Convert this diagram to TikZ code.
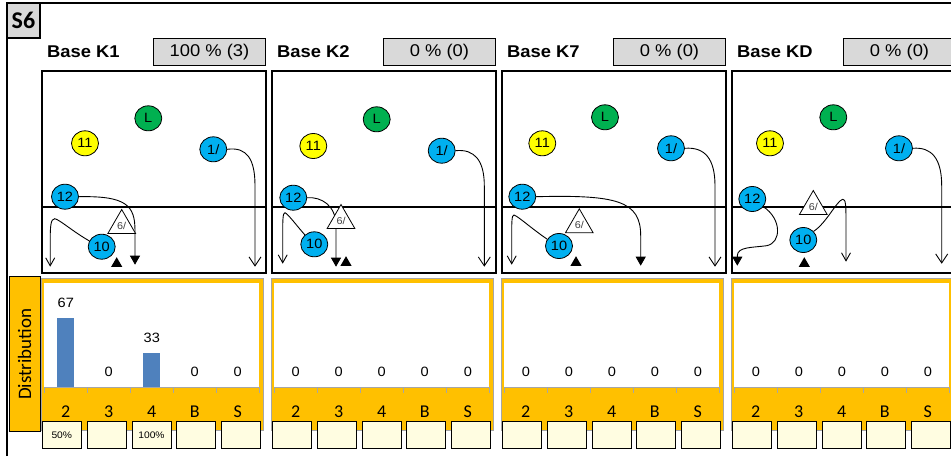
\documentclass[tikz,border=0pt]{standalone}
\usepackage{fontspec}
\setmainfont{Liberation Sans}
\newfontfamily\arw[FakeStretch=1.08]{Liberation Sans}
\newfontfamily\calf{Carlito}
\usetikzlibrary{shapes.geometric,arrows.meta}
\definecolor{gbox}{HTML}{D9D9D9}
\definecolor{orng}{HTML}{FFC000}
\definecolor{barc}{HTML}{4F81BD}
\definecolor{crm}{HTML}{FFFDE1}
\definecolor{axg}{HTML}{A6A6A6}
\definecolor{pblue}{HTML}{00B0F0}
\definecolor{pgreen}{HTML}{00B050}
\definecolor{pyel}{HTML}{FFFF00}
\tikzset{
 pl/.style={ellipse,draw=black,line width=0.8pt,minimum width=27pt,minimum height=25pt,inner sep=0pt,font=\arw\fontsize{13.5}{13.5}\selectfont},
 plb/.style={pl,fill=pblue}, plg/.style={pl,fill=pgreen}, ply/.style={pl,fill=pyel},
 defd/.style={regular polygon,regular polygon sides=3,draw=black,line width=0.8pt,fill=white,minimum size=32pt,inner sep=0pt,font=\arw\fontsize{10}{10}\selectfont,text=black!75},
 ballmk/.style={regular polygon,regular polygon sides=3,fill=black,minimum size=13pt,inner sep=0pt},
 route/.style={line width=0.9pt},
 runarr/.style={route,-{Straight Barb[length=9pt,width=12pt]}},
 cutarr/.style={route,-{Straight Barb[length=8pt,width=9pt]}},
 passarr/.style={route,-{Triangle[length=9pt,width=10pt]}},
 hdr/.style={anchor=west,inner sep=0pt,font=\arw\bfseries\fontsize{17}{17}\selectfont},
 pct/.style={draw=black,line width=1.3pt,fill=gbox,minimum width=112pt,minimum height=27pt,inner sep=0pt,font=\arw\fontsize{17}{17}\selectfont},
 fieldbox/.style={draw=black,line width=1.6pt,minimum width=224pt,minimum height=202pt,inner sep=0pt},
 chartbox/.style={draw=axg,line width=0.8pt,fill=orng,minimum width=222.5pt,minimum height=151.5pt,inner sep=0pt},
 plotarea/.style={fill=white,minimum width=215pt,minimum height=104pt,inner sep=0pt},
 val/.style={font=\arw\fontsize{13.5}{13.5}\selectfont,inner sep=0pt},
 cat/.style={font=\calf\fontsize{18}{18}\selectfont,inner sep=0pt},
 pbox/.style={draw=black,line width=0.8pt,fill=crm,minimum width=39pt,minimum height=27pt,inner sep=0pt,font=\arw\fontsize{9.5}{9.5}\selectfont}
}
\newcommand\panelbase[6]{%
 \begin{scope}[xshift=#1*230pt]
 \node[hdr] (hd#2) at (47,51.5) {#3};
 \node[pct] (pc#2) at (209.5,52) {#4};
 \node[fieldbox] (fd#2) at (153.7,171.9) {};
 \coordinate (ml#2) at (0,206.7);
 \draw[line width=1.6pt] (fd#2.west |- ml#2) -- (fd#2.east |- ml#2);
 \node[chartbox] (ch#2) at (152.25,354.25) {};
 \node[plotarea] (pa#2) at (151.8,335.3) {};
 \draw[axg,line width=1pt] (44.3,387.3) -- (259.3,387.3);
 \foreach \k in {0,...,5} \draw[axg,line width=1pt] (44.3+43*\k,387.3) -- ++(0,5.4);
 \foreach \c [count=\k from 0] in {2,3,4,B,S} \node[cat] (ct#2\k) at (65.8+43*\k,411.7) {\c};
 \foreach \v [count=\k from 0] in {#6} {
   \ifnum\v>0 \fill[barc] (65.8+43*\k-8.5,387.3) rectangle ++(17,-1.03*\v);\fi
   \node[val] (vl#2\k) at (65.8+43*\k,387.3-1.03*\v-15.6) {\v};
 }
 \foreach \t [count=\k from 0] in {#5} \node[pbox] (bx#2\k) at (61.8+44.85*\k,435) {\t};
 \end{scope}}
\begin{document}
\begin{tikzpicture}[x=1pt,y=-1pt]
\useasboundingbox (0,0) rectangle (951,456);
\fill[white] (0,0) rectangle (951,456);
\draw[line width=1.5pt] (7,456) -- (7,3) -- (951,3);
\node[draw=black,line width=1.3pt,fill=gbox,minimum width=33pt,minimum height=35pt,inner sep=0pt,font=\calf\bfseries\fontsize{24}{24}\selectfont] (s6) at (23.5,20.5) {S6};
\node[draw=black,line width=0.8pt,fill=orng,rotate=90,minimum width=155pt,minimum height=31pt,inner sep=0pt,font=\calf\fontsize{19}{19}\selectfont] (dist) at (24.5,354.2) {Distribution};
\panelbase{0}{a}{Base K1}{100 \% (3)}{50\%,{},100\%,{},{}}{67,0,33,0,0}
\panelbase{1}{b}{Base K2}{0 \% (0)}{{},{},{},{},{}}{0,0,0,0,0}
\panelbase{2}{c}{Base K7}{0 \% (0)}{{},{},{},{},{}}{0,0,0,0,0}
\panelbase{3}{d}{Base KD}{0 \% (0)}{{},{},{},{},{}}{0,0,0,0,0}
% panel 1
\begin{scope}[shift={(41.7,70.7)}]
\node[plg] (La) at (106.6,47.6) {L};
\node[ply] (Ea) at (43.3,72.6) {11};
\node[plb] (Oa) at (171.6,78.6) {1/};
\node[plb] (Ta) at (23.3,126) {12};
\node[plb] (Na) at (60,176) {10};
\draw[runarr] (Oa.east) .. controls (205,76) and (213.3,88) .. (213.3,115) -- (213.3,196);
\draw[passarr] (Ta.east) .. controls (85,125) and (93.3,135) .. (93.3,160) -- (93.3,194);
\draw[cutarr] (Na.155) .. controls (30,160) and (18,149) .. (13,148) .. controls (9,148) and (8.5,156) .. (8.5,170) -- (8.5,196);
\node[defd] (Da) at (80,154.8) {\raisebox{-4pt}{6/}};
\node[ballmk] (Ba) at (75,193) {};
\end{scope}
% panel 2
\begin{scope}[shift={(271.7,70.7)}]
\node[plg] (Lb) at (105,48.6) {L};
\node[ply] (Eb) at (41.6,75.3) {11};
\node[plb] (Ob) at (170,80) {1/};
\node[plb] (Tb) at (21.6,127) {12};
\node[plb] (Nb) at (42.6,173.6) {10};
\draw[runarr] (Ob.east) .. controls (203,78) and (212.6,90) .. (212.6,115) -- (212.6,196);
\draw[passarr] (Tb.east) .. controls (50,126) and (64.3,135) .. (64.3,155) -- (64.3,196);
\draw[cutarr] (Nb.135) .. controls (25,155) and (17,144) .. (13.3,142) .. controls (11,142) and (11,150) .. (11,165) -- (11,193);
\node[defd] (Db) at (69.3,149.8) {\raisebox{-4pt}{6/}};
\node[ballmk] (Bb) at (74.3,192) {};
\end{scope}
% panel 3
\begin{scope}[shift={(501.7,70.7)}]
\node[plg] (Lc) at (103.3,46.6) {L};
\node[ply] (Ec) at (40.6,72.6) {11};
\node[plb] (Oc) at (169.3,77.6) {1/};
\node[plb] (Tc) at (20.6,126) {12};
\node[plb] (Nc) at (57.3,175.3) {10};
\draw[runarr] (Oc.east) .. controls (203,76) and (213.3,88) .. (213.3,115) -- (213.3,196);
\draw[passarr] (Tc.east) .. controls (115,124) and (139,130) .. (139,165) -- (139,195);
\draw[cutarr] (Nc.150) .. controls (30,158) and (17,146) .. (12.3,144.3) .. controls (10,144) and (10,152) .. (10,165) -- (10,194);
\node[defd] (Dc) at (77.6,154.1) {\raisebox{-4pt}{6/}};
\node[ballmk] (Bc) at (74.3,192) {};
\end{scope}
% panel 4
\begin{scope}[shift={(731.7,70.7)}]
\node[plg] (Ld) at (101.6,46.6) {L};
\node[ply] (Ed) at (38.3,72.6) {11};
\node[plb] (Od) at (167.3,77.6) {1/};
\node[plb] (Td) at (20.6,128.3) {12};
\node[plb] (Nd) at (71.6,169.3) {10};
\draw[runarr] (Od.east) .. controls (200,76) and (210,88) .. (210,115) -- (210,193);
\draw[passarr] (Td.-35) .. controls (50,148) and (50,172) .. (35,175) .. controls (20,177) and (6,176) .. (5.6,185) -- (5.6,195);
\draw[cutarr] (Nd.40) .. controls (95,152) and (105,130) .. (111,128.6) .. controls (114,128) and (114.3,135) .. (114.3,150) -- (114.3,191);
\node[defd] (Dd) at (81.6,135.8) {\raisebox{-4pt}{6/}};
\node[ballmk] (Bd) at (72.6,193) {};
\end{scope}
\end{tikzpicture}
\end{document}
